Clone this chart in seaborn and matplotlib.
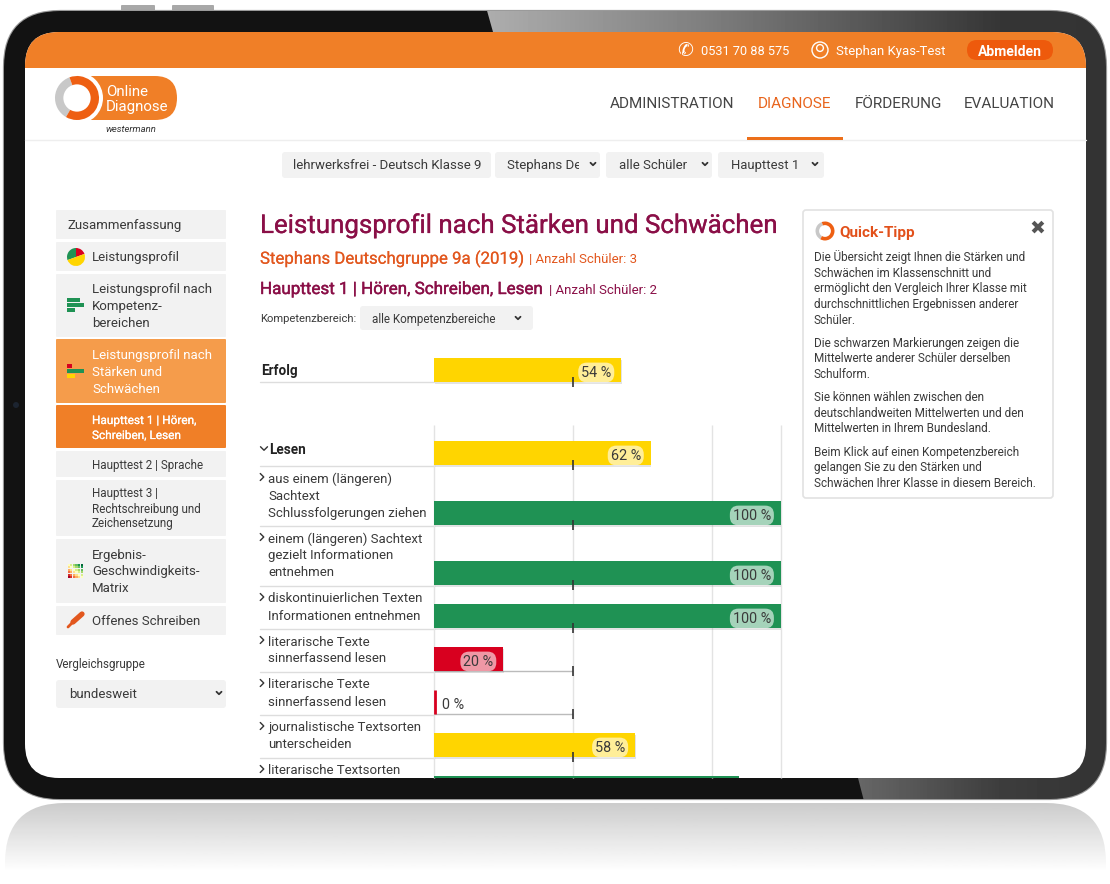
import matplotlib
matplotlib.use('Agg')
import matplotlib.pyplot as plt
import matplotlib.patheffects as pe
from matplotlib.patches import FancyBboxPatch, Rectangle, Circle, Wedge, Polygon
import numpy as np
import pandas as pd
import seaborn as sns

# chart data
row_labels = [
    ['aus einem (längeren)', 'Sachtext', 'Schlussfolgerungen ziehen'],
    ['einem (längeren) Sachtext', 'gezielt Informationen', 'entnehmen'],
    ['diskontinuierlichen Texten', 'Informationen entnehmen'],
    ['literarische Texte', 'sinnerfassend lesen'],
    ['literarische Texte', 'sinnerfassend lesen'],
    ['journalistische Textsorten', 'unterscheiden'],
    ['literarische Textsorten'],
]
row_lines = [3, 3, 2, 2, 2, 2, 2]
row_values = [100, 100, 100, 20, 0, 58, 88]
row_means = [40, 40, 40, 40, 40, 40, 40]
row_levels = ['hoch', 'hoch', 'hoch', 'tief', 'tief', 'mittel', 'hoch']
erfolg_value, erfolg_mean = 54, 40
lesen_value, lesen_mean = 62.5, 40
grid_ticks = [0, 40, 80, 100]

sidebar_items = [
    (210, 239, ['Zusammenfassung'], 67),
    (242, 271, ['Leistungsprofil'], 92),
    (274, 337, ['Leistungsprofil nach', 'Kompetenz-', 'bereichen'], 92),
    (451, 477, ['Haupttest 2 | Sprache'], 92),
    (480, 536, ['Haupttest 3 |', 'Rechtschreibung und', 'Zeichensetzung'], 92),
    (539, 603, ['Ergebnis-', 'Geschwindigkeits-', 'Matrix'], 92),
    (606, 635, ['Offenes Schreiben'], 92),
]
tipp_lines = [
    (256, 'Die Übersicht zeigt Ihnen die Stärken und'),
    (272, 'Schwächen im Klassenschnitt und'),
    (287, 'ermöglicht den Vergleich Ihrer Klasse mit'),
    (303, 'durchschnittlichen Ergebnissen anderer'),
    (319, 'Schüler.'),
    (342, 'Die schwarzen Markierungen zeigen die'),
    (357, 'Mittelwerte anderer Schüler derselben'),
    (373, 'Schulform.'),
    (396, 'Sie können wählen zwischen den'),
    (412, 'deutschlandweiten Mittelwerten und den'),
    (427, 'Mittelwerten in Ihrem Bundesland.'),
    (451, 'Beim Klick auf einen Kompetenzbereich'),
    (466, 'gelangen Sie zu den Stärken und'),
    (482, 'Schwächen Ihrer Klasse in diesem Bereich.'),
]
nav_items = [(610, 'ADMINISTRATION', '#444444'), (758, 'DIAGNOSE', '#e8641c'),
             (855, 'FÖRDERUNG', '#444444'), (964, 'EVALUATION', '#444444')]

level_colors = {'hoch': '#1f9254', 'mittel': '#ffd500', 'tief': '#d8001f'}
ORANGE = '#f07f27'
PANEL = '#f2f2f2'
TEXT = '#3a3a3a'
WINE = '#8a0f47'
RED_ORANGE = '#e2571e'

sns.set_theme(style='white')
plt.rcParams['font.family'] = ['Roboto', 'DejaVu Sans']

fig = plt.figure(figsize=(11.1, 8.84), dpi=100, facecolor='white')
bg = fig.add_axes([0, 0, 1, 1])
bg.set_xlim(0, 1110)
bg.set_ylim(884, 0)
bg.axis('off')


def txt(x, y, s, px=13, color=TEXT, weight='normal', ha='left', stroke=0, **kw):
    t = bg.text(x, y, s, fontsize=px * 0.72, color=color, fontweight=weight,
                ha=ha, va='center_baseline', **kw)
    if stroke:
        # roboto has no usable medium weight here, thicken the regular one a bit
        t.set_path_effects([pe.withStroke(linewidth=stroke, foreground=color)])
    return t


def rbox(x0, y0, x1, y1, r=3, fc=PANEL, ec='none', lw=0, z=2):
    p = FancyBboxPatch((x0 + r, y0 + r), x1 - x0 - 2 * r, y1 - y0 - 2 * r,
                       boxstyle=f'round,pad={r},rounding_size={r}', fc=fc, ec=ec, lw=lw, zorder=z)
    bg.add_patch(p)
    return p


def chevron(x, y, s=2.5, down=True, color='#333333', z=5, lw=1.3):
    if down:
        bg.plot([x - s, x, x + s], [y - s / 2, y + s / 2, y - s / 2], color=color, lw=lw, zorder=z)
    else:
        bg.plot([x - s / 2, x + s / 2, x - s / 2], [y - s, y, y + s], color=color, lw=lw, zorder=z)


def ring(cx, cy, r, z=6, inner=0.62):
    bg.add_patch(Wedge((cx, cy), r, 120, 250, fc='#c8c8c8', ec='none', zorder=z))
    bg.add_patch(Wedge((cx, cy), r, -110, 120, fc='#ee5f12', ec='none', zorder=z))
    bg.add_patch(Circle((cx, cy), r * inner, fc='white', ec='none', zorder=z + 1))


# side buttons
rbox(121, 5, 155, 11, r=1, fc='#a8a8a8', z=1)
rbox(172, 5, 214, 11, r=1, fc='#a8a8a8', z=1)

# reflection below the tablet
refl = rbox(5, 803, 1106, 930, r=60, fc='none', z=1)
fade = np.linspace(0.80, 1.0, 64)[:, None]
im = bg.imshow(fade, extent=(0, 1110, 872, 803), cmap='gray', vmin=0, vmax=1, aspect='auto', zorder=1)
im.set_clip_path(refl)

# tablet body with the light reflex on the right part
body = rbox(4, 11, 1106, 799, r=56, fc='#1a1a1a', ec='#9a9a9a', lw=1.6, z=1.2)
xs = np.arange(0, 1110)
top_grad = np.interp(xs, [485, 700, 1000, 1110], [0.68, 0.50, 0.21, 0.20])[None, :]
low_grad = np.interp(xs, [860, 1000, 1110], [0.40, 0.24, 0.20])[None, :]
for grad, ext in [(top_grad, (0, 1110, 400, 8)), (low_grad, (0, 1110, 802, 400))]:
    im = bg.imshow(grad, extent=ext, cmap='gray', vmin=0, vmax=1, aspect='auto', zorder=1.3)
    im.set_clip_path(body)
dark = Polygon([(0, 0), (484, 0), (493, 32), (493, 778), (858, 778), (865, 805), (0, 805)],
               fc='#121212', ec='none', zorder=1.4)
bg.add_patch(dark)
dark.set_clip_path(body)
bg.add_patch(Circle((16, 405), 3, fc='#1c2430', ec='none', zorder=1.5))

# screen
screen = rbox(25, 32, 1086, 778, r=34, fc='white', z=1.6)
head = Rectangle((20, 30), 1070, 38, fc=ORANGE, ec='none', zorder=1.7)
bg.add_patch(head)
head.set_clip_path(screen)

# header
txt(685, 49, '✆', px=19, color='white', ha='center', family='DejaVu Sans', zorder=5)
bg.add_patch(Circle((820, 50), 8, fc='none', ec='white', lw=1, zorder=5))
bg.add_patch(Circle((820, 48), 3.4, fc='none', ec='white', lw=1, zorder=5))
txt(701, 50, '0531 70 88 575', px=12.7, color='white', zorder=5)
txt(836, 50, 'Stephan Kyas-Test', px=13.1, color='white', zorder=5)
rbox(967, 40, 1053, 60, r=10, fc='#ee5a0c', z=3)
txt(1010, 50, 'Abmelden', px=14, color='white', weight='bold', ha='center', zorder=5)

# logo
rbox(70, 76, 177, 120, r=22, fc=ORANGE, z=3)
bg.add_patch(Circle((77, 98), 26, fc='white', ec='none', zorder=4))
ring(77, 98, 22, z=5)
txt(106, 90, 'Online', px=15, color='white', zorder=6)
txt(106, 105, 'Diagnose', px=15, color='white', zorder=6)
txt(131, 129, 'westermann', px=9.5, color='#333333', ha='center', style='italic', zorder=6)

# navigation
for x, s, c in nav_items:
    txt(x, 103, s, px=15.3, color=c, zorder=5)
bg.plot([25, 1086], [139.5, 139.5], color='#eeeeee', lw=1, zorder=3)
bg.add_patch(Rectangle((747, 137), 96, 2.5, fc='#ec6f1a', ec='none', zorder=4))

# top dropdowns
rbox(282, 152, 491, 178)
txt(387, 164, 'lehrwerksfrei - Deutsch Klasse 9', px=13.3, ha='center', zorder=5)
rbox(495, 152, 600, 178)
t = txt(507, 164, 'Stephans Deutsch', px=13.3, zorder=5)
t.set_clip_on(True)
t.set_clip_path(Rectangle((495, 152), 84, 26, transform=bg.transData))
chevron(593, 164)
rbox(606, 152, 712, 178)
txt(619, 164, 'alle Schüler', px=13.3, zorder=5)
chevron(705, 164)
rbox(718, 152, 824, 178)
txt(731, 164, 'Haupttest 1', px=13, zorder=5)
chevron(815, 164)

# sidebar
for y0, y1, lines, x in sidebar_items:
    rbox(56, y0, 226, y1, r=1)
    ym = (y0 + y1) / 2
    small = y0 >= 451 and y1 <= 536
    step = 15 if small else 17
    for i, line in enumerate(lines):
        txt(x, ym + (i - (len(lines) - 1) / 2) * step - 0.5, line, px=11.6 if small else 13.2, zorder=5)

rbox(56, 339, 226, 403, r=1, fc='#f59c4b')
for y, s in [(354, 'Leistungsprofil nach'), (371, 'Stärken und'), (388, 'Schwächen')]:
    txt(92, y, s, px=13.2, color='white', zorder=5)
rbox(56, 405, 226, 448, r=1, fc=ORANGE)
txt(92, 419, 'Haupttest 1 | Hören,', px=11.8, color='white', stroke=0.15, zorder=5)
txt(92, 434, 'Schreiben, Lesen', px=11.8, color='white', stroke=0.15, zorder=5)

# sidebar icons
bg.add_patch(Wedge((76, 257), 9, 160, 270, fc='#1f9254', ec='none', zorder=5))
bg.add_patch(Wedge((76, 257), 9, -90, -20, fc='#d8001f', ec='none', zorder=5))
bg.add_patch(Wedge((76, 257), 9, -20, 160, fc='#ffd500', ec='none', zorder=5))
for y, w, c in [(300, 13, '#1f9254'), (305, 17, '#1f9254'), (310, 8, '#1f9254')]:
    bg.add_patch(Rectangle((67, y - 1.6), w, 3.2, fc=c, ec='none', zorder=5))
for y, w, c in [(366, 5, '#d8001f'), (371, 17, '#1f9254'), (376, 8, '#ffd500')]:
    bg.add_patch(Rectangle((67, y - 1.6), w, 3.2, fc=c, ec='none', zorder=5))
for i in range(6):
    for j in range(6):
        col = plt.cm.RdYlGn((5 - j) / 5 * 0.5 + i / 5 * 0.5)
        bg.add_patch(Rectangle((67.5 + i * 2.6, 564 + j * 2.4), 2.2, 2.0, fc=col, ec='none', zorder=5))
bg.plot([73, 82], [622, 614], color='#e2571e', lw=3.8, solid_capstyle='round', zorder=5)
bg.plot([68, 73], [627, 622], color='#e2571e', lw=2, zorder=5)

txt(56, 663, 'Vergleichsgruppe', px=11.6, zorder=5)
rbox(56, 680, 226, 708)
txt(69, 693, 'bundesweit', px=13.3, zorder=5)
chevron(219, 693)

# heading block
txt(260, 223, 'Leistungsprofil nach Stärken und Schwächen', px=25.9, color=WINE, stroke=0.2, zorder=5)
txt(260, 257, 'Stephans Deutschgruppe 9a (2019)', px=16.8, color=RED_ORANGE, stroke=0.1, zorder=5)
txt(529, 258, '| Anzahl Schüler: 3', px=13.3, color=RED_ORANGE, zorder=5)
txt(260, 288, 'Haupttest 1 | Hören, Schreiben, Lesen', px=17, color=WINE, stroke=0.3, zorder=5)
txt(549, 289, '| Anzahl Schüler: 2', px=13.2, color=WINE, zorder=5)
txt(260, 318, 'Kompetenzbereich:', px=11.3, zorder=5)
rbox(360, 306, 533, 330)
txt(372, 318, 'alle Kompetenzbereiche', px=11.6, zorder=5)
chevron(518, 318)

# row labels and separators
txt(261, 369, 'Erfolg', px=13.5, color='#222222', weight='bold', zorder=5)
bg.plot([260, 434], [381.5, 381.5], color='#dddddd', lw=1, zorder=3)
chevron(264, 448.5, s=3.5, lw=1)
txt(269, 448, 'Lesen', px=13.5, color='#222222', weight='bold', zorder=5)
bg.plot([260, 434], [465.5, 465.5], color='#dddddd', lw=1, zorder=3)

row_bottoms = 465 + np.cumsum([17 * n + 9 for n in row_lines])
for lines, bottom, n in zip(row_labels, row_bottoms, row_lines):
    first = bottom - 13 - 17 * (n - 1)
    chevron(262, first - 1, s=3.5, down=False, lw=1.0)
    for i, line in enumerate(lines):
        txt(268, first + 17 * i - 0.5, line, px=13.3, zorder=5)
    if bottom < 778:
        bg.plot([260, 434], [bottom + 0.5, bottom + 0.5], color='#dddddd', lw=1, zorder=3)

# quick tip box
rbox(803, 210, 1053, 498, r=3, fc='white', ec='#e2e2e2', lw=1.2, z=3)
ring(825, 231, 9.5, z=5)
txt(839, 231, 'Quick-Tipp', px=15.2, color='#e2501a', weight='bold', zorder=5)
txt(1037, 226, '✖', px=19, color='#555555', ha='center', family='DejaVu Sans', zorder=5)
for y, s in tipp_lines:
    txt(814, y, s, px=11.8, zorder=5)

# bar chart on its own axes, y is in screen pixels
chart = fig.add_axes([434 / 1110, 1 - 778 / 884, 347 / 1110, 438 / 884])
chart.patch.set_alpha(0)

df = pd.DataFrame({
    'row': ['Erfolg', 'Lesen'] + [' '.join(r) + str(i) for i, r in enumerate(row_labels)],
    'value': [erfolg_value, lesen_value] + row_values,
    'mean': [erfolg_mean, lesen_mean] + row_means,
    'level': ['mittel', 'mittel'] + row_levels,
    'center': [370, 453] + [b - 12 for b in row_bottoms],
})

sns.barplot(data=df, x='value', y='center', hue='level', palette=level_colors, orient='y',
            native_scale=True, width=24 / 43, dodge=False, legend=False, saturation=1,
            linewidth=0, ax=chart, zorder=3)
chart.set_xlim(0, 100)
chart.set_ylim(778, 340)
chart.axis('off')
for bar in chart.patches:
    bar.set_edgecolor('none')
    bar.set_path_effects([pe.withSimplePatchShadow(offset=(0.4, -1.5), shadow_rgbFace='#777777', alpha=0.2)])

chart.vlines(grid_ticks, 425, 778, color='#e3e3e3', lw=1, zorder=1, clip_on=False)

for _, r in df.iterrows():
    bottom = r['center'] + 12
    if r['value'] < r['mean']:
        chart.hlines(bottom, 0, r['mean'], color='#bbbbbb', lw=1, zorder=2)
    chart.vlines(r['mean'], bottom - 5, bottom + 5, color='#333333', lw=1.2, zorder=6)
    label = f"{r['value']:.0f} %"
    if r['value'] == 0:
        chart.vlines(0.3, bottom - 24, bottom, color=level_colors['tief'], lw=2, zorder=4)
        chart.annotate(label, (0, r['center'] + 1), xytext=(8 * 0.72, 0), textcoords='offset points',
                       fontsize=10.4, color='#3a3a3a', ha='left', va='center_baseline', zorder=7)
    elif bottom < 778:
        chart.annotate(label, (r['value'], r['center'] + 1), xytext=(-10 * 0.72, 0),
                       textcoords='offset points', fontsize=10.4, color='#3a3a3a', ha='right',
                       va='center_baseline', zorder=7,
                       bbox=dict(boxstyle='round,pad=0.2,rounding_size=0.6', fc='white', ec='none', alpha=0.6))

fig.savefig('out.png', dpi=100)
